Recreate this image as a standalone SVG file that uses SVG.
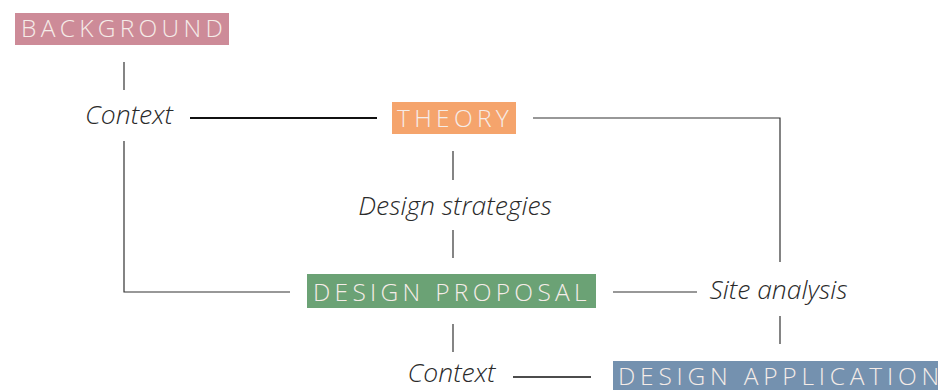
<svg xmlns="http://www.w3.org/2000/svg" width="938" height="390" viewBox="0 0 938 390">
<style>
.lbl{font-family:"Open Sans","Noto Sans",sans-serif;font-style:italic;font-weight:300;font-size:26.5px;fill:#2a2a2a;text-anchor:middle}
.box{font-family:"Open Sans","Noto Sans",sans-serif;font-weight:300;font-size:24.5px;fill:#f5ece8;letter-spacing:4.3px}
.ln{stroke:#333;stroke-width:1.2;fill:none}
</style>
<rect width="938" height="390" fill="#fff"/>
<g id="connectors">
<line class="ln" x1="124" y1="62" x2="124" y2="90"/>
<line x1="190" y1="118" x2="377" y2="118" stroke="#111" stroke-width="2"/>
<polyline class="ln" points="533,118 780,118 780,262"/>
<polyline class="ln" points="124,141 124,292 290,292"/>
<line class="ln" x1="453" y1="151" x2="453" y2="180"/>
<line class="ln" x1="453" y1="230" x2="453" y2="258"/>
<line class="ln" x1="613" y1="292" x2="697" y2="292"/>
<line class="ln" x1="780" y1="316" x2="780" y2="344"/>
<line class="ln" x1="453" y1="324" x2="453" y2="352"/>
<line x1="513" y1="377" x2="591" y2="377" stroke="#111" stroke-width="1.5"/>
</g>
<g id="background">
<rect x="15" y="13" width="214" height="32" fill="#cd8b98"/>
<text class="box" x="21" y="37">BACKGROUND</text>
</g>
<g id="theory">
<rect x="392" y="102" width="124" height="32" fill="#f5a46c"/>
<text class="box" x="397" y="127">THEORY</text>
</g>
<g id="design-proposal">
<rect x="307" y="274" width="289" height="34" fill="#6ba275"/>
<text class="box" x="313" y="301">DESIGN PROPOSAL</text>
</g>
<g id="design-application">
<rect x="613" y="361" width="325" height="29" fill="#7491af"/>
<text class="box" x="618" y="385" style="letter-spacing:4.8px">DESIGN APPLICATION</text>
</g>
<g id="labels">
<text class="lbl" x="129" y="124">Context</text>
<text class="lbl" x="455" y="214.5">Design strategies</text>
<text class="lbl" x="778.5" y="298.5">Site analysis</text>
<text class="lbl" x="451.5" y="381.5">Context</text>
</g>
</svg>
